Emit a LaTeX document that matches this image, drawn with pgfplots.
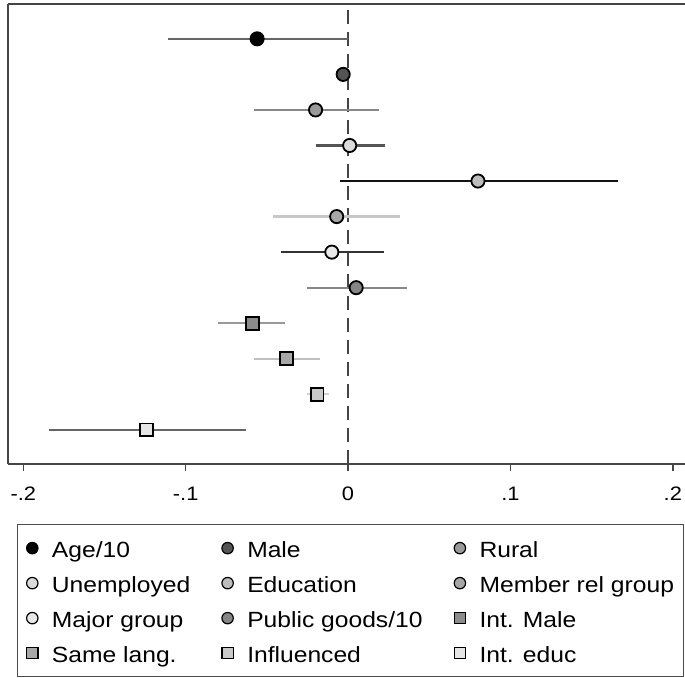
\documentclass[border=0pt]{standalone}
\usepackage{fontspec}
\setmainfont{Liberation Sans}[FakeStretch=1.12]
\usepackage{pgfplots}
\pgfplotsset{compat=1.18}
\definecolor{axc}{gray}{0.27}
\definecolor{legc}{gray}{0.3}
% marker fills
\definecolor{fA}{gray}{0.0}
\definecolor{fB}{gray}{0.33}
\definecolor{fC}{gray}{0.60}
\definecolor{fD}{gray}{0.86}
\definecolor{fE}{gray}{0.74}
\definecolor{fF}{gray}{0.65}
\definecolor{fG}{gray}{0.91}
\definecolor{fH}{gray}{0.52}
\definecolor{fI}{gray}{0.55}
\definecolor{fJ}{gray}{0.66}
\definecolor{fK}{gray}{0.79}
\definecolor{fL}{gray}{0.90}
% CI line colours
\definecolor{cA}{gray}{0.40}
\definecolor{cB}{gray}{0.33}
\definecolor{cC}{gray}{0.53}
\definecolor{cD}{gray}{0.33}
\definecolor{cE}{gray}{0.07}
\definecolor{cF}{gray}{0.78}
\definecolor{cG}{gray}{0.20}
\definecolor{cH}{gray}{0.53}
\definecolor{cI}{gray}{0.60}
\definecolor{cJ}{gray}{0.75}
\definecolor{cK}{gray}{0.82}
\definecolor{cL}{gray}{0.40}
\begin{document}
\begin{tikzpicture}
\begin{axis}[
  scale only axis, width=678.5pt, height=460pt,
  xmin=-0.2097, xmax=0.2081, ymin=0.04, ymax=12.98,
  axis x line*=bottom, axis y line*=left,
  axis line style={-, color=axc, line width=2pt},
  xtick={-0.2,-0.1,0,0.1,0.2}, xticklabels={-.2,-.1,0,.1,.2},
  ytick=\empty,
  tick align=outside, major tick length=7pt,
  tick style={color=axc, line width=1.5pt},
  xticklabel style={font=\fontsize{19.5}{20}\selectfont, inner sep=0pt, yshift=-16pt},
  clip=false,
  legend columns=3,
  legend style={at={(0.0140,-0.1304)}, anchor=north west, draw=legc, line width=1.3pt,
    inner xsep=0pt, inner ysep=6pt, column sep=0pt, row sep=0pt,
    font=\fontsize{22}{24}\selectfont,
    nodes={inner xsep=0pt, inner ysep=0pt, text height=27pt, text depth=8pt}},
  legend image code/.code={%
    \path (-14pt,0pt) (7pt,0pt);
    \draw[#1, mark size=5.7pt, every mark/.append style={line width=1.2pt}] plot coordinates {(0pt,0pt)};},
]
% frame top line and zero line
\draw[axc, line width=2pt] (rel axis cs:0,1) -- (rel axis cs:1,1);
\addplot[forget plot, axc, line width=2pt, dash pattern=on 14pt off 8pt] coordinates {(0,12.81) (0,0.04)};
% confidence intervals
\addplot[forget plot, cA, line width=2.2pt] coordinates {(-0.111,12) (0.000,12)};
\addplot[forget plot, cB, line width=2.2pt] coordinates {(-0.006,11) (0.000,11)};
\addplot[forget plot, cC, line width=2.2pt] coordinates {(-0.058,10) (0.019,10)};
\addplot[forget plot, cD, line width=2.2pt] coordinates {(-0.020,9) (0.023,9)};
\addplot[forget plot, cE, line width=2.2pt] coordinates {(-0.005,8) (0.166,8)};
\addplot[forget plot, cF, line width=2.2pt] coordinates {(-0.046,7) (0.032,7)};
\addplot[forget plot, cG, line width=2.2pt] coordinates {(-0.041,6) (0.022,6)};
\addplot[forget plot, cH, line width=2.2pt] coordinates {(-0.025,5) (0.036,5)};
\addplot[forget plot, cI, line width=2.2pt] coordinates {(-0.080,4) (-0.039,4)};
\addplot[forget plot, cJ, line width=2.2pt] coordinates {(-0.058,3) (-0.017,3)};
\addplot[forget plot, cK, line width=2.2pt] coordinates {(-0.025,2) (-0.012,2)};
\addplot[forget plot, cL, line width=2.2pt] coordinates {(-0.184,1) (-0.063,1)};
% point estimates
\addplot[only marks, mark=*, mark size=6.6pt, mark options={fill=fA, draw=black, line width=1.8pt}] coordinates {(-0.056,12)};
\addlegendentry{\makebox[173pt][l]{\hspace{12pt}Age/10}}
\addplot[only marks, mark=*, mark size=6.6pt, mark options={fill=fB, draw=black, line width=1.8pt}] coordinates {(-0.003,11)};
\addlegendentry{\makebox[210pt][l]{\hspace{12pt}Male}}
\addplot[only marks, mark=*, mark size=6.6pt, mark options={fill=fC, draw=black, line width=1.8pt}] coordinates {(-0.020,10)};
\addlegendentry{\makebox[216pt][l]{\hspace{12pt}Rural}}
\addplot[only marks, mark=*, mark size=6.6pt, mark options={fill=fD, draw=black, line width=1.8pt}] coordinates {(0.001,9)};
\addlegendentry{\makebox[173pt][l]{\hspace{12pt}Unemployed}}
\addplot[only marks, mark=*, mark size=6.6pt, mark options={fill=fE, draw=black, line width=1.8pt}] coordinates {(0.080,8)};
\addlegendentry{\makebox[210pt][l]{\hspace{12pt}Education}}
\addplot[only marks, mark=*, mark size=6.6pt, mark options={fill=fF, draw=black, line width=1.8pt}] coordinates {(-0.007,7)};
\addlegendentry{\makebox[216pt][l]{\hspace{12pt}Member rel group}}
\addplot[only marks, mark=*, mark size=6.6pt, mark options={fill=fG, draw=black, line width=1.8pt}] coordinates {(-0.010,6)};
\addlegendentry{\makebox[173pt][l]{\hspace{12pt}Major group}}
\addplot[only marks, mark=*, mark size=6.6pt, mark options={fill=fH, draw=black, line width=1.8pt}] coordinates {(0.005,5)};
\addlegendentry{\makebox[210pt][l]{\hspace{12pt}Public goods/10}}
\addplot[only marks, mark=square*, mark size=6.4pt, mark options={fill=fI, draw=black, line width=1.8pt}] coordinates {(-0.059,4)};
\addlegendentry{\makebox[216pt][l]{\hspace{12pt}Int. Male}}
\addplot[only marks, mark=square*, mark size=6.4pt, mark options={fill=fJ, draw=black, line width=1.8pt}] coordinates {(-0.038,3)};
\addlegendentry{\makebox[173pt][l]{\hspace{12pt}Same lang.}}
\addplot[only marks, mark=square*, mark size=6.4pt, mark options={fill=fK, draw=black, line width=1.8pt}] coordinates {(-0.019,2)};
\addlegendentry{\makebox[210pt][l]{\hspace{12pt}Influenced}}
\addplot[only marks, mark=square*, mark size=6.4pt, mark options={fill=fL, draw=black, line width=1.8pt}] coordinates {(-0.124,1)};
\addlegendentry{\makebox[216pt][l]{\hspace{12pt}Int. educ}}
\end{axis}
\pgfresetboundingbox
\useasboundingbox (-7.5pt,-213pt) rectangle (677.5pt,464pt);
\end{tikzpicture}
\end{document}
